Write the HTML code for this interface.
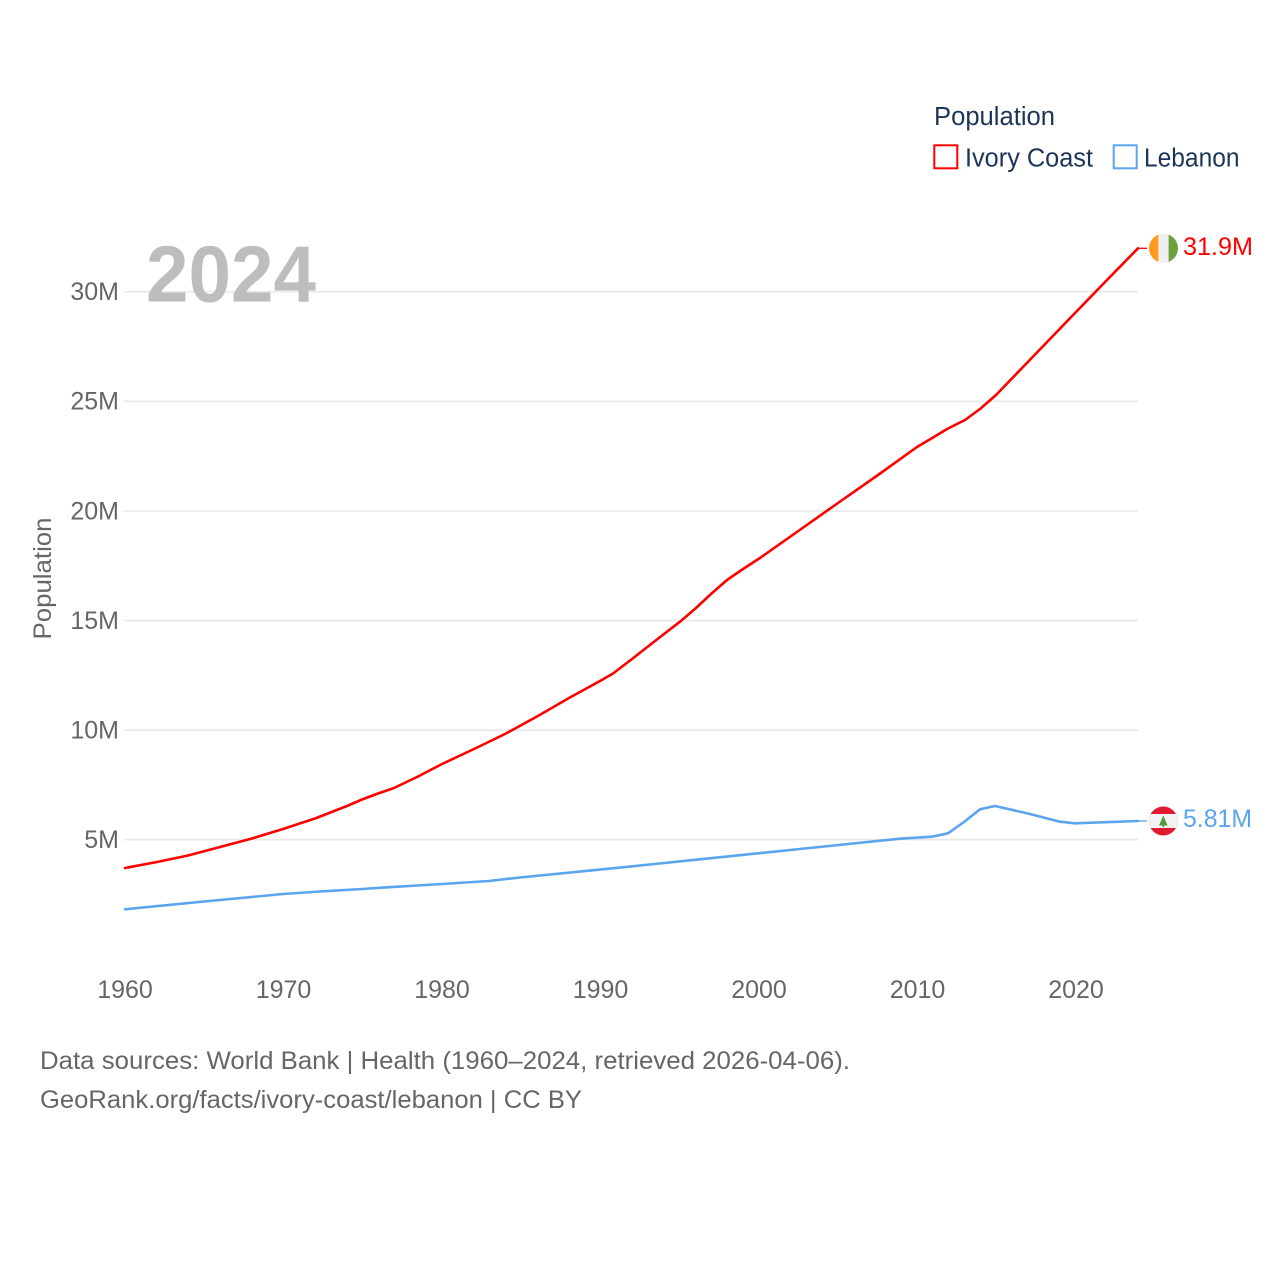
<!DOCTYPE html>
<html>
<head>
<meta charset="utf-8">
<style>
  html, body { margin: 0; padding: 0; background: #fff; }
  body { width: 1280px; height: 1280px; overflow: hidden; }
  svg { display: block; font-family: "Liberation Sans", "DejaVu Sans", sans-serif; }
</style>
</head>
<body>
<svg width="1280" height="1280" viewBox="0 0 1280 1280" xmlns="http://www.w3.org/2000/svg">
  <defs>
    <clipPath id="ciClip"><circle cx="1163.5" cy="248.3" r="14.5"/></clipPath>
    <clipPath id="lbClip"><circle cx="1163.3" cy="821" r="14.5"/></clipPath>
  </defs>

  <!-- gridlines -->
  <g stroke="#e8e8e8" stroke-width="1.6">
    <line x1="124" y1="291.7" x2="1138" y2="291.7"/>
    <line x1="124" y1="401.3" x2="1138" y2="401.3"/>
    <line x1="124" y1="511" x2="1138" y2="511"/>
    <line x1="124" y1="620.6" x2="1138" y2="620.6"/>
    <line x1="124" y1="730.2" x2="1138" y2="730.2"/>
    <line x1="124" y1="839.6" x2="1138" y2="839.6"/>
  </g>

  <!-- year watermark -->
  <text x="146" y="301.5" font-size="80" font-weight="bold" fill="#bdbdbd" textLength="170" lengthAdjust="spacingAndGlyphs">2024</text>

  <!-- y tick labels -->
  <g font-size="25" fill="#666" text-anchor="end">
    <text x="119" y="300">30M</text>
    <text x="119" y="409.6">25M</text>
    <text x="119" y="519.3">20M</text>
    <text x="119" y="628.9">15M</text>
    <text x="119" y="738.5">10M</text>
    <text x="119" y="848">5M</text>
  </g>

  <!-- x tick labels -->
  <g font-size="25" fill="#666" text-anchor="middle">
    <text x="125" y="998">1960</text>
    <text x="283.5" y="998">1970</text>
    <text x="442" y="998">1980</text>
    <text x="600.5" y="998">1990</text>
    <text x="759" y="998">2000</text>
    <text x="917.5" y="998">2010</text>
    <text x="1076" y="998">2020</text>
  </g>

  <!-- y axis title -->
  <text transform="translate(51,578.5) rotate(-90)" font-size="25" fill="#666" text-anchor="middle" textLength="122" lengthAdjust="spacingAndGlyphs">Population</text>

  <!-- Ivory Coast series -->
  <polyline fill="none" stroke="#ff0000" stroke-width="2.6" stroke-linejoin="round" stroke-linecap="round"
    points="125,868 157,862 188,855.5 220,847 252,838.5 283,829 315,818.5 347,806 362,799.5 378,793.5 394,788 418,776.5 442,764 474,749 505,734 537,716.5 569,698 600,681 613,673.5 632,659 664,634 680,621.7 696,608 711,594 727,580 743,569 760,558 799,530.5 838,503 878,475 917,447 933,437.5 948,428.5 965,420 980,409 996,395 1036,353.5 1076,312 1107,280 1138,248.3"/>
  <line x1="1138" y1="248.3" x2="1147" y2="248.3" stroke="#ff0000" stroke-width="1.3"/>

  <!-- Lebanon series -->
  <polyline fill="none" stroke="#5ba4ee" stroke-width="2.6" stroke-linejoin="round" stroke-linecap="round"
    points="125,909.3 204,901.5 283,894 320,891.5 362,889 387,887.3 442,884 489,881 520,877.5 600,869.6 700,859.3 800,849 900,838.7 932,836.7 948,833.3 964,822 980,809.3 995,806 1028,813.5 1060,821.7 1075,823.3 1138,821"/>
  <line x1="1138" y1="821" x2="1147" y2="821" stroke="#5ba4ee" stroke-width="1.3"/>

  <!-- Ivory Coast flag -->
  <g clip-path="url(#ciClip)">
    <rect x="1148" y="233" width="10.4" height="31" fill="#ff9a1e"/>
    <rect x="1158.4" y="233" width="10.2" height="31" fill="#efefef"/>
    <rect x="1168.6" y="233" width="11" height="31" fill="#6b9f3f"/>
  </g>
  <text x="1183" y="255" font-size="25" fill="#ff0000" textLength="70" lengthAdjust="spacingAndGlyphs">31.9M</text>

  <!-- Lebanon flag -->
  <g clip-path="url(#lbClip)">
    <rect x="1148" y="806" width="31" height="31" fill="#e21a30"/>
    <rect x="1148" y="814" width="31" height="14" fill="#f2f2f2"/>
    <polygon points="1163.3,815.5 1159,825.5 1167.6,825.5" fill="#4f9a3a"/>
    <rect x="1162.6" y="825" width="1.4" height="2" fill="#4f9a3a"/>
  </g>
  <text x="1183" y="827" font-size="25" fill="#5ba4ee" textLength="69" lengthAdjust="spacingAndGlyphs">5.81M</text>

  <!-- legend -->
  <text x="934" y="125" font-size="25.5" fill="#1c3557" textLength="121" lengthAdjust="spacingAndGlyphs">Population</text>
  <rect x="934.3" y="145.3" width="23" height="23" fill="none" stroke="#ff0000" stroke-width="2"/>
  <text x="965" y="166.7" font-size="25.5" fill="#1c3557" textLength="128" lengthAdjust="spacingAndGlyphs">Ivory Coast</text>
  <rect x="1113.7" y="145.3" width="23" height="23" fill="none" stroke="#5ba4ee" stroke-width="2"/>
  <text x="1144" y="166.7" font-size="25.5" fill="#1c3557" textLength="95.5" lengthAdjust="spacingAndGlyphs">Lebanon</text>

  <!-- footer -->
  <text x="40" y="1069" font-size="25" fill="#666" textLength="810" lengthAdjust="spacingAndGlyphs">Data sources: World Bank | Health (1960–2024, retrieved 2026-04-06).</text>
  <text x="40" y="1108" font-size="25" fill="#666" textLength="542" lengthAdjust="spacingAndGlyphs">GeoRank.org/facts/ivory-coast/lebanon | CC BY</text>
</svg>
</body>
</html>
